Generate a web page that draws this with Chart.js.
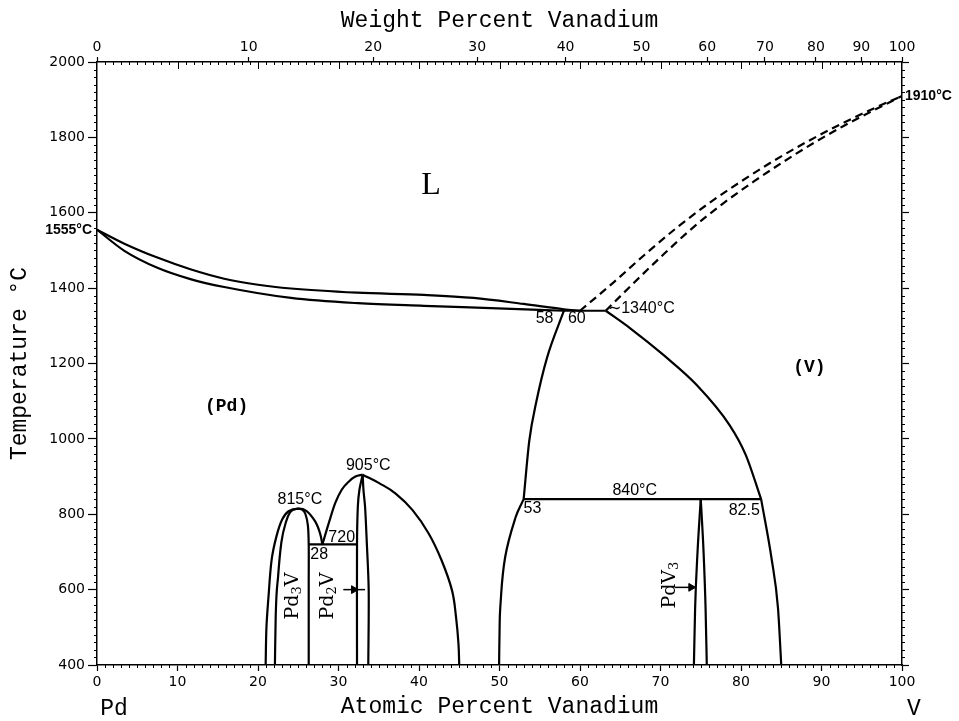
<!DOCTYPE html>
<html>
<head>
<meta charset="utf-8">
<title>Pd–V phase diagram</title>
<script src="https://cdn.jsdelivr.net/npm/chart.js@4.4.1/dist/chart.umd.min.js"></script>
<style>
  html, body { margin: 0; padding: 0; background: #fff; }
  canvas { display: block; }
</style>
</head>
<body>
<canvas id="c" width="959" height="721"></canvas>
<script>
// Pd–V equilibrium phase diagram: temperature (°C) against atomic percent vanadium.

// Invariant temperatures (°C) and compositions (at.% V)
const T_PD_MELT = 1555;
const T_V_MELT = 1910;
const T_EUTECTIC = 1340;
const T_PD3V_MAX = 815;
const T_PD2V_MAX = 905;
const T_PERITECTOID = 720;
const T_EUTECTOID = 840;
const X_EUT_PD = 58, X_EUT_L = 60, X_EUT_V = 63.2;
const X_EUTECTOID_L = 53, X_EUTECTOID_R = 82.5, X_PDV3 = 75;
const X_PERI = 28;

// Top axis: weight-percent labels and the atomic-percent positions they sit at
const wtLabels = ['0', '10', '20', '30', '40', '50', '60', '70', '80', '90', '100'];
const wtTickAt = [0, 18.84, 34.31, 47.24, 58.21, 67.63, 75.81, 82.98, 89.31, 94.95, 100];

// Liquid / (Pd) boundaries
const liquidusPd = [[0, T_PD_MELT], [3.4, 1518], [7.5, 1481], [11.6, 1450], [15.8, 1425], [20.0, 1409], [24.1, 1399],
  [32.3, 1388], [40.6, 1382], [46.8, 1374], [53.0, 1358], [58.0, 1344], [X_EUT_L, T_EUTECTIC]];
const solidusPd = [[0, T_PD_MELT], [3.4, 1499], [7.5, 1454], [11.6, 1424], [15.8, 1403], [24.1, 1374],
  [32.4, 1360], [40.6, 1353], [48.9, 1347], [X_EUT_PD, T_EUTECTIC]];

// Liquid / (V) boundaries (dashed, uncertain)
const liquidusV = [[X_EUT_L, T_EUTECTIC], [64, 1412], [68, 1488], [72, 1560], [76, 1625], [80, 1683],
  [84, 1737], [88, 1786], [92, 1831], [96, 1872], [100, T_V_MELT]];
const solidusV = [[X_EUT_V, T_EUTECTIC], [66.6, 1412], [70.3, 1488], [74.0, 1560], [77.8, 1625], [81.6, 1683],
  [85.4, 1737], [89.1, 1786], [92.8, 1831], [96.5, 1872], [100, T_V_MELT]];

// Solvus lines of the central region
const solvusLeftHigh = [[X_EUTECTOID_L, T_EUTECTOID], [53.7, 995], [54.6, 1101], [55.9, 1215], [X_EUT_PD, T_EUTECTIC]];
const solvusLeftLow = [[49.95, 400], [50.0, 480], [50.1, 554], [50.7, 686], [52.0, 792], [X_EUTECTOID_L, T_EUTECTOID]];
const solvusVHigh = [[X_EUT_V, T_EUTECTIC], [66.2, 1294], [70.4, 1222], [74.5, 1143], [78.6, 1036], [80.6, 957],
  [X_EUTECTOID_R, T_EUTECTOID]];
const solvusVLow = [[X_EUTECTOID_R, T_EUTECTOID], [83.8, 682], [84.6, 550], [85.0, 400]];

// PdV3 phase field
const pdv3Left = [[74.15, 400], [74.3, 550], [74.6, 700], [X_PDV3, T_EUTECTOID]];
const pdv3Right = [[X_PDV3, T_EUTECTOID], [75.35, 700], [75.6, 550], [75.75, 400]];

// Pd3V dome
const pd3vOuter = [[20.95, 400], [21.05, 500], [21.3, 580], [21.7, 680], [22.3, 742], [23.0, 786], [23.8, 808],
  [25, T_PD3V_MAX], [26.0, 809], [27.1, 781], [27.7, 750], [X_PERI, T_PERITECTOID]];
const pd3vInnerLeft = [[22.1, 400], [22.2, 530], [22.5, 636], [22.9, 725], [23.5, 781], [24.1, 808], [25, T_PD3V_MAX]];
const pd3vInnerRight = [[26.3, 400], [26.3, 620], [26.3, T_PERITECTOID], [26.2, 770], [25.9, 800], [25.5, 812], [25, T_PD3V_MAX]];

// Pd2V dome
const pd2vLeftArc = [[X_PERI, T_PERITECTOID], [28.8, 777], [29.6, 830], [30.4, 865], [31.3, 887], [32.1, 900], [33, T_PD2V_MAX]];
const pd2vInnerLeft = [[32.3, 400], [32.3, T_PERITECTOID], [32.4, 820], [32.6, 865], [33, T_PD2V_MAX]];
const pd2vInnerRight = [[33.7, 400], [33.75, 600], [33.5, 732], [33.3, 820], [33.1, 865], [33, T_PD2V_MAX]];
const pd2vRightArc = [[33, T_PD2V_MAX], [35.1, 882], [37.1, 855], [39.2, 811], [41.2, 749], [42.8, 678], [44.1, 598],
  [44.6, 527], [44.9, 457], [45.0, 400]];

// Isotherms
const eutecticLine = [[X_EUT_PD, T_EUTECTIC], [X_EUT_V, T_EUTECTIC]];
const eutectoidLine = [[X_EUTECTOID_L, T_EUTECTOID], [X_EUTECTOID_R, T_EUTECTOID]];
const peritectoidLine = [[26.3, T_PERITECTOID], [32.3, T_PERITECTOID]];

// Pointer arrows to the narrow compound fields
const arrowPd2V = [[30.6, 600], [33.3, 600]];
const arrowPdV3 = [[71.8, 606], [74.2, 606]];
const arrowHeads = [[31.9, 600], [73.8, 606]];

const pts = a => a.map(([x, y]) => ({ x, y }));
// smooth: 'mono' = monotone cubic through the points, a number = bezier tension
const line = (data, smooth, dash) => ({
  data: pts(data), showLine: true, borderColor: '#000', backgroundColor: '#000',
  borderWidth: 2.2, pointRadius: 0, pointHoverRadius: 0,
  tension: smooth === 'mono' ? 0.4 : smooth,
  cubicInterpolationMode: smooth === 'mono' ? 'monotone' : 'default',
  borderDash: dash || [], fill: false
});

const datasets = [
  line(liquidusPd, 'mono'), line(solidusPd, 'mono'),
  line(liquidusV, 'mono', [8, 5]), line(solidusV, 'mono', [8, 5]),
  line(solvusLeftHigh, 'mono'), line(solvusLeftLow, 0.4),
  line(solvusVHigh, 'mono'), line(solvusVLow, 'mono'),
  line(pdv3Left, 'mono'), line(pdv3Right, 'mono'),
  line(pd3vOuter, 0.35), line(pd3vInnerLeft, 'mono'), line(pd3vInnerRight, 0.3),
  line(pd2vLeftArc, 'mono'), line(pd2vInnerLeft, 0.3), line(pd2vInnerRight, 0.3), line(pd2vRightArc, 0.4),
  line(eutecticLine, 0), line(eutectoidLine, 0), line(peritectoidLine, 0),
  Object.assign(line(arrowPd2V, 0), { borderWidth: 1.5 }),
  Object.assign(line(arrowPdV3, 0), { borderWidth: 1.5 }),
  { data: pts(arrowHeads), showLine: false, pointStyle: 'triangle', rotation: 90, pointRadius: 4.5,
    pointHoverRadius: 4.5, backgroundColor: '#000', borderColor: '#000', borderWidth: 1 }
];

// Text placed in data coordinates
const SANS = '16px "Liberation Sans"';
const notes = [
  { text: 'L', x: 41.5, y: 1672, font: '32px "Liberation Serif"' },
  { text: '(Pd)', x: 16.1, y: 1086, font: 'bold 18px "Liberation Mono"' },
  { text: '(V)', x: 88.5, y: 1190, font: 'bold 18px "Liberation Mono"' },
  { text: '1555°C', x: 0, y: T_PD_MELT, align: 'right', dx: -5, font: 'bold 14px "Liberation Sans"' },
  { text: '1910°C', x: 100, y: T_V_MELT, align: 'left', dx: 3, font: 'bold 14px "Liberation Sans"' },
  { text: '∼1340°C', x: 63.5, y: 1346, align: 'left', font: SANS },
  { text: '58', x: 55.6, y: 1320, font: SANS },
  { text: '60', x: 59.6, y: 1320, font: SANS },
  { text: '815°C', x: 25.2, y: 839, font: SANS },
  { text: '905°C', x: 33.7, y: 930, font: SANS },
  { text: '720', x: 30.4, y: 737, font: SANS },
  { text: '28', x: 27.6, y: 693, font: SANS },
  { text: '840°C', x: 66.8, y: 862, font: SANS },
  { text: '53', x: 54.1, y: 814, font: SANS },
  { text: '82.5', x: 80.4, y: 811, font: SANS }
];
// Compound names, written upwards, with subscripts
const phaseNames = [
  { parts: [['Pd'], ['3', 1], ['V']], x: 24.2, y: 583 },
  { parts: [['Pd'], ['2', 1], ['V']], x: 28.6, y: 583 },
  { parts: [['PdV'], ['3', 1]], x: 71.0, y: 612 }
];

const textPlugin = {
  id: 'diagramText',
  afterDatasetsDraw(chart) {
    const { ctx, scales: { x, y }, chartArea } = chart;
    ctx.save();
    ctx.fillStyle = '#000';
    ctx.textBaseline = 'middle';
    for (const n of notes) {
      ctx.font = n.font;
      ctx.textAlign = n.align || 'center';
      ctx.fillText(n.text, x.getPixelForValue(n.x) + (n.dx || 0), y.getPixelForValue(n.y));
    }
    const big = '19px "DejaVu Serif"', small = '13px "DejaVu Serif"';
    for (const p of phaseNames) {
      let total = 0;
      for (const [t, sub] of p.parts) { ctx.font = sub ? small : big; total += ctx.measureText(t).width; }
      ctx.save();
      ctx.translate(x.getPixelForValue(p.x), y.getPixelForValue(p.y));
      ctx.rotate(-Math.PI / 2);
      ctx.textAlign = 'left';
      ctx.textBaseline = 'alphabetic';
      let cx = -total / 2;
      for (const [t, sub] of p.parts) {
        ctx.font = sub ? small : big;
        ctx.fillText(t, cx, sub ? 9 : 6);
        cx += ctx.measureText(t).width;
      }
      ctx.restore();
    }
    // element symbols under the ends of the composition axis
    ctx.font = '23px "Liberation Mono"';
    ctx.textAlign = 'center';
    ctx.fillText('Pd', chartArea.left + 17, 709);
    ctx.fillText('V', chartArea.right + 12, 709);
    ctx.restore();
  }
};

// Short unlabelled ticks: 1 at.% along the composition axes, 20 °C along the temperature axes
const AT_MINOR = 1, T_MINOR = 20;
const minorTicks = {
  id: 'minorTicks',
  afterDraw(chart) {
    const { ctx, chartArea: { left, right, top, bottom }, scales: { x, y } } = chart;
    ctx.save();
    ctx.strokeStyle = '#000';
    ctx.lineWidth = 1;
    ctx.beginPath();
    for (let v = AT_MINOR; v < 100; v += AT_MINOR) {
      const p = Math.round(x.getPixelForValue(v)) + 0.5;
      if (v % 10 !== 0) { ctx.moveTo(p, bottom); ctx.lineTo(p, bottom + 3); }
      ctx.moveTo(p, top); ctx.lineTo(p, top + (v % 10 === 0 ? 7 : 3));
    }
    for (let t = 400 + T_MINOR; t < 2000; t += T_MINOR) {
      if (t % 200 === 0) continue;
      const p = Math.round(y.getPixelForValue(t)) + 0.5;
      ctx.moveTo(left, p); ctx.lineTo(left - 3, p);
      ctx.moveTo(right, p); ctx.lineTo(right + 3, p);
    }
    ctx.stroke();
    ctx.restore();
  }
};

const tickFont = { family: 'DejaVu Sans', size: 14 };
const titleFont = { family: 'Liberation Mono', size: 23 };
const axisBorder = { display: true, color: '#000', width: 1.5 };
const plain = v => String(v);

new Chart(document.getElementById('c'), {
  type: 'scatter',
  data: { datasets },
  options: {
    responsive: false,
    devicePixelRatio: 1,
    animation: false,
    events: [],
    layout: { padding: 0 },
    plugins: { legend: { display: false }, tooltip: { enabled: false } },
    scales: {
      x: {
        type: 'linear', position: 'bottom', min: 0, max: 100,
        ticks: { stepSize: 10, callback: plain, font: tickFont, color: '#000', padding: 3, maxRotation: 0 },
        grid: { drawOnChartArea: false, tickLength: 6, tickColor: '#000', tickWidth: 1.2 },
        border: axisBorder,
        title: { display: true, text: 'Atomic Percent Vanadium', font: titleFont, color: '#000', padding: { top: 0, bottom: 0 } },
        afterFit: s => { s.height = 56; }
      },
      x2: {
        type: 'linear', position: 'top', min: 0, max: 100,
        afterBuildTicks: s => { s.ticks = wtTickAt.map(v => ({ value: v })); },
        ticks: { callback: (v, i) => wtLabels[i], font: tickFont, color: '#000', padding: 1, maxRotation: 0, autoSkip: false },
        grid: { drawOnChartArea: false, tickLength: 5, tickColor: '#000', tickWidth: 1.2 },
        border: axisBorder,
        title: { display: true, text: 'Weight Percent Vanadium', font: titleFont, color: '#000', padding: { top: 7, bottom: 0 } },
        afterFit: s => { s.height = 62; }
      },
      y: {
        type: 'linear', position: 'left', min: 400, max: 2000,
        ticks: { stepSize: 200, callback: plain, font: tickFont, color: '#000', padding: 3 },
        grid: { drawOnChartArea: false, tickLength: 9, tickColor: '#000', tickWidth: 1.2 },
        border: axisBorder,
        title: { display: true, text: 'Temperature °C', font: titleFont, color: '#000', padding: { top: 6, bottom: 0 } },
        afterFit: s => { s.width = 97; }
      },
      y2: {
        type: 'linear', position: 'right', min: 400, max: 2000,
        ticks: { stepSize: 200, display: false },
        grid: { drawOnChartArea: false, tickLength: 7, tickColor: '#000', tickWidth: 1.2 },
        border: axisBorder,
        afterFit: s => { s.width = 57; }
      }
    }
  },
  plugins: [minorTicks, textPlugin]
});
</script>
</body>
</html>
